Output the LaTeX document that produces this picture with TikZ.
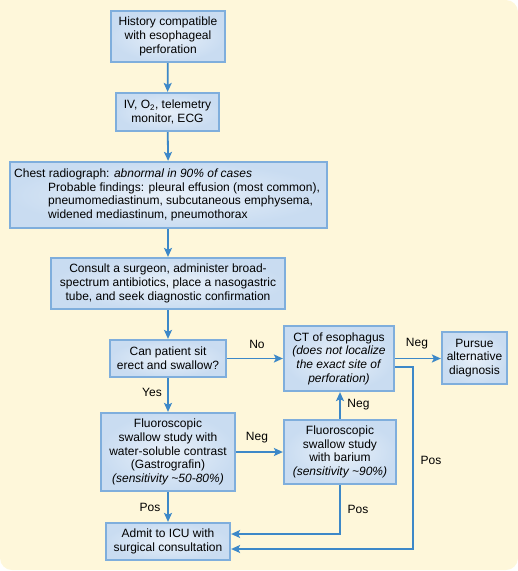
\documentclass[tikz,border=0pt]{standalone}
\usepackage{fontspec}
\setmainfont{Liberation Sans}
\usetikzlibrary{arrows.meta,calc}
\definecolor{bg}{HTML}{FEF7DA}
\definecolor{boxedge}{HTML}{7FAEDC}
\definecolor{boxin}{HTML}{E8F0F9}
\definecolor{boxout}{HTML}{C9DCF1}
\definecolor{arrowc}{HTML}{3D88C8}
\begin{document}
\begin{tikzpicture}[x=1pt,y=1pt,
  box/.style={draw=boxedge, line width=2.2pt, inner color=boxin, outer color=boxout,
    align=center, inner sep=0pt, font=\fontsize{12}{13.7}\selectfont},
  txt/.style={inner sep=0pt, font=\fontsize{12}{13.7}\selectfont},
  lbl/.style={inner sep=0pt, font=\fontsize{12}{13.7}\selectfont},
  conn/.style={draw=arrowc, line width=1.8pt, -{Stealth[length=9pt,width=8pt,inset=2pt]}}
]
\useasboundingbox (0,0) rectangle (518,-571);
\fill[bg] (0,0) -- (506,0) arc[start angle=90,end angle=0,radius=12] -- (518,-558)
  arc[start angle=0,end angle=-90,radius=12] -- (12,-570)
  arc[start angle=270,end angle=180,radius=12] -- cycle;

\node[box, minimum width=114pt, minimum height=51pt] (b1) at (168,-36.5)
  {History compatible\\with esophageal\\perforation};
\node[box, minimum width=103pt, minimum height=38pt] (b2) at (167.5,-112)
  {IV, O\textsubscript{2}, telemetry\\monitor, ECG};
\node[box, minimum width=317pt, minimum height=66pt] (b3) at (168.5,-195) {};
\node[txt, anchor=west, align=left] (b3t) at (14,-195)
  {Chest radiograph: \textit{abnormal in 90\% of cases}\\
   \hspace*{34pt}Probable findings: pleural effusion (most common),\\
   \hspace*{34pt}pneumomediastinum, subcutaneous emphysema,\\
   \hspace*{34pt}widened mediastinum, pneumothorax};
\node[box, minimum width=234pt, minimum height=51pt] (b4) at (168,-283.5)
  {Consult a surgeon, administer broad-\\spectrum antibiotics, place a nasogastric\\tube, and seek diagnostic confirmation};
\node[box, minimum width=116pt, minimum height=37pt] (b5) at (168,-358.5)
  {Can patient sit\\erect and swallow?};
\node[box, minimum width=110pt, minimum height=65pt] (ct) at (339,-358.5)
  {CT of esophagus\\\textit{(does not localize}\\\textit{the exact site of}\\\textit{perforation)}};
\node[box, minimum width=65pt, minimum height=52pt] (pa) at (474.5,-358)
  {Pursue\\alternative\\diagnosis};
\node[box, minimum width=134pt, minimum height=78pt] (fw) at (168,-452)
  {Fluoroscopic\\swallow study with\\water-soluble contrast\\(Gastrografin)\\\textit{(sensitivity \textasciitilde50-80\%)}};
\node[box, minimum width=112pt, minimum height=64pt] (fb) at (340,-452)
  {Fluoroscopic\\swallow study\\with barium\\\textit{(sensitivity \textasciitilde90\%)}};
\node[box, minimum width=124pt, minimum height=37pt] (ad) at (168,-541.5)
  {Admit to ICU with\\surgical consultation};

\draw[conn] (b1) -- (b2);
\draw[conn] (b2) -- (b3);
\draw[conn] (b3.south -| b4.north) -- (b4);
\draw[conn] (b4) -- (b5);
\draw[conn] (b5.east) -- (ct.west);
\draw[conn] (ct.east) -- (ct.east -| pa.west);
\draw[conn] (b5) -- (fw);
\draw[conn] (fw.east) -- (fw.east -| fb.west);
\draw[conn] (fb.north) -- (fb.north |- ct.south);
\draw[conn] (fw) -- (ad);
\coordinate (c1) at (340,-534);
\draw[conn] (fb.south) -- (c1) -- (c1 -| ad.east);
\coordinate (c2) at (413,-367);
\coordinate (c3) at (413,-549);
\draw[conn] (c2 -| ct.east) -- (c2) -- (c3) -- (c3 -| ad.east);

\node[lbl] (lno) at (257,-344) {No};
\node[lbl] (lneg1) at (417,-344) {Neg};
\node[lbl] (lyes) at (152,-392) {Yes};
\node[lbl] (lneg2) at (257,-438) {Neg};
\node[lbl] (lneg3) at (358.5,-405) {Neg};
\node[lbl] (lpos1) at (150,-507) {Pos};
\node[lbl] (lpos2) at (358,-509) {Pos};
\node[lbl] (lpos3) at (431,-460) {Pos};
\end{tikzpicture}
\end{document}
